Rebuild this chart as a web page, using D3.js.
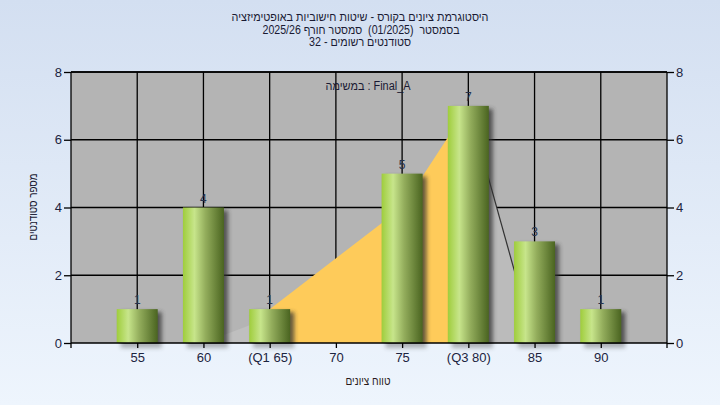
<!DOCTYPE html>
<html><head><meta charset="utf-8">
<script src="https://cdn.jsdelivr.net/npm/d3@7"></script>
<style>
html,body{margin:0;padding:0;}
svg{display:block;}
text{font-family:"Liberation Sans","DejaVu Sans",Arial,sans-serif;}
</style>
</head><body>
<svg id="chart" width="720" height="405"></svg>
<script>
const categories = ["55","60","(Q1 65)","70","75","(Q3 80)","85","90"];
const counts = [1,4,1,0,5,7,3,1];
const yTicks = [0,2,4,6,8];
const titleLines = [
  "היסטוגרמת ציונים בקורס - שיטות חישוביות באופטימיזציה",
  "בסמסטר\u00a0\u00a0(01/2025)\u00a0\u00a0סמסטר חורף 2025/26",
  "סטודנטים רשומים - 32"
];
const subTitle = "במשימה : Final_A";
const xLabel = "טווח ציונים";
const yLabel = "מספר סטודנטים";
// box-plot like areas (category, value)
const lowWhisker = [["60",0],["(Q1 65)",0.75],["(Q1 65)",0]];
const iqrArea = [["(Q1 65)",0],["(Q1 65)",1],["75",4],["(Q3 80)",7],["(Q3 80)",0]];
const highWhisker = [["(Q3 80)",0],["(Q3 80)",7],["85",0]];

const svg = d3.select("#chart");
const W=720,H=405;
const L=71,R=667,T=72,B=343;

const defs = svg.append("defs");
const bg = defs.append("linearGradient").attr("id","bg").attr("x1",0).attr("y1",0).attr("x2",0).attr("y2",1);
bg.append("stop").attr("offset","0%").attr("stop-color","#d3dff1");
bg.append("stop").attr("offset","100%").attr("stop-color","#eef5fd");
const bar = defs.append("linearGradient").attr("id","bar").attr("x1",0).attr("y1",0).attr("x2",1).attr("y2",0);
[["0%","#9fcd3c"],["28%","#c7e58b"],["55%","#93ad5c"],["100%","#4a6420"]].forEach(s=>bar.append("stop").attr("offset",s[0]).attr("stop-color",s[1]));
const f = defs.append("filter").attr("id","shadow").attr("x","-50%").attr("y","-50%").attr("width","200%").attr("height","200%");
f.append("feGaussianBlur").attr("stdDeviation",2.2);

svg.append("rect").attr("width",W).attr("height",H).attr("fill","url(#bg)");

const x = d3.scalePoint().domain(categories).range([L,R]).padding(1);
const y = d3.scaleLinear().domain([0,8]).range([B,T]);

svg.append("rect").attr("x",L).attr("y",T).attr("width",R-L).attr("height",B-T).attr("fill","#b4b4b4");

// gridlines
svg.append("g").selectAll("line").data(yTicks.filter(d=>d>0)).join("line")
  .attr("x1",L).attr("x2",R).attr("y1",d=>y(d)).attr("y2",d=>y(d)).attr("stroke","#000").attr("stroke-width",1.3);
svg.append("g").selectAll("line").data(categories).join("line")
  .attr("x1",d=>x(d)).attr("x2",d=>x(d)).attr("y1",T).attr("y2",B).attr("stroke","#000").attr("stroke-width",1.3);

const poly = d3.line().x(d=>x(d[0])).y(d=>y(d[1]));
svg.append("path").attr("d",poly(lowWhisker)+"Z").attr("fill","#bfbfbf");
svg.append("path").attr("d",poly(iqrArea)+"Z").attr("fill","#fecb5a");
svg.append("path").attr("d",poly(highWhisker)+"Z").attr("fill","#bbbbbb");
svg.append("path").attr("d",poly(highWhisker.slice(1))).attr("fill","none").attr("stroke","#333").attr("stroke-width",1.2);

const bw = 41;
const data = categories.map((c,i)=>({c,v:counts[i]})).filter(d=>d.v>0);
svg.append("g").selectAll("rect").data(data).join("rect")
  .attr("x",d=>x(d.c)-bw/2+4).attr("y",d=>y(d.v)+3).attr("width",bw).attr("height",d=>B-y(d.v)+2)
  .attr("fill","#303030").attr("opacity",0.75).attr("filter","url(#shadow)");
svg.append("rect").attr("x",L).attr("y",B+1).attr("width",R-L).attr("height",10).attr("fill","#ebf3fc").attr("opacity",0.55);
svg.append("g").selectAll("rect").data(data).join("rect")
  .attr("x",d=>x(d.c)-bw/2).attr("y",d=>y(d.v)).attr("width",bw).attr("height",d=>B-y(d.v))
  .attr("fill","url(#bar)");
svg.append("g").selectAll("text").data(data).join("text")
  .attr("x",d=>x(d.c)).attr("y",d=>y(d.v)-5).attr("text-anchor","middle")
  .attr("font-size",12).attr("fill","#26324d").text(d=>d.v);

// axes
const yl = d3.axisLeft(y).tickValues(yTicks).tickSize(7).tickFormat(d3.format("d"));
const yr = d3.axisRight(y).tickValues(yTicks).tickSize(7).tickFormat(d3.format("d"));
const xb = d3.axisBottom(x).tickSize(5);
const gl = svg.append("g").attr("transform",`translate(${L},0)`).call(yl);
const gr = svg.append("g").attr("transform",`translate(${R},0)`).call(yr);
const gb = svg.append("g").attr("transform",`translate(0,${B})`).call(xb);
[gl,gr,gb].forEach(g=>{
  g.select(".domain").remove();
  g.selectAll("line").attr("stroke","#000").attr("stroke-width",1.3);
  g.selectAll("text").attr("font-size",13).attr("fill","#1c2440").attr("font-family","Liberation Sans, DejaVu Sans, Arial");
});
gl.selectAll("text").attr("x",-9);
gr.selectAll("text").attr("x",9);
gb.selectAll("text").attr("y",10);
svg.append("line").attr("x1",L).attr("x2",R).attr("y1",B).attr("y2",B).attr("stroke","#000").attr("stroke-width",1.5);
svg.append("line").attr("x1",L).attr("x2",R).attr("y1",T).attr("y2",T).attr("stroke","#000").attr("stroke-width",1.3);
svg.append("line").attr("x1",L).attr("x2",L).attr("y1",T).attr("y2",B+5).attr("stroke","#000").attr("stroke-width",1.3);
svg.append("line").attr("x1",R).attr("x2",R).attr("y1",T).attr("y2",B+5).attr("stroke","#000").attr("stroke-width",1.3);

// titles
const titleWidths = [257,197,102];
const titleCx = [360,361,360];
svg.append("g").selectAll("text").data(titleLines).join("text")
  .attr("x",(d,i)=>titleCx[i]).attr("y",(d,i)=>21+i*12.5).attr("text-anchor","middle").attr("direction","rtl")
  .attr("font-size",12).attr("fill","#1a1a33")
  .attr("textLength",(d,i)=>titleWidths[i]).attr("lengthAdjust","spacingAndGlyphs").text(d=>d);
svg.append("text").attr("x",368).attr("y",90).attr("text-anchor","middle")
  .attr("font-size",12).attr("fill","#1a1a33").attr("textLength",85).attr("lengthAdjust","spacingAndGlyphs").text(subTitle);
svg.append("text").attr("x",368).attr("y",385).attr("text-anchor","middle").attr("direction","rtl")
  .attr("font-size",12).attr("fill","#2a1a1a").attr("textLength",45).attr("lengthAdjust","spacingAndGlyphs").text(xLabel);
svg.append("text").attr("transform","translate(37,207) rotate(-90)").attr("text-anchor","middle").attr("direction","rtl")
  .attr("font-size",12).attr("fill","#1a1a33").attr("textLength",67).attr("lengthAdjust","spacingAndGlyphs").text(yLabel);
</script>
</body></html>
